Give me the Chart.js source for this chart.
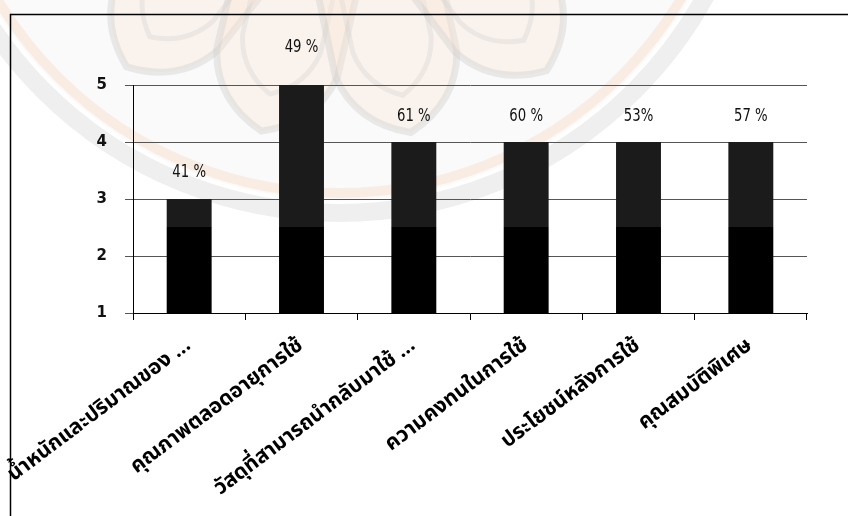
<!DOCTYPE html>
<html>
<head>
<meta charset="utf-8">
<script src="https://cdn.jsdelivr.net/npm/chart.js@4.4.1/dist/chart.umd.min.js"></script>
<style>
  html, body { margin: 0; background: #fff; }
  #wrap { width: 848px; height: 516px; position: relative; }
</style>
</head>
<body>
<div id="wrap"><canvas id="chart" width="848" height="516"></canvas></div>
<script>
// survey topics and mean scores
const categories = [
  'น้ำหนักและปริมาณของ ...',
  'คุณภาพตลอดอายุการใช้',
  'วัสดุที่สามารถนำกลับมาใช้ ...',
  'ความคงทนในการใช้',
  'ประโยชน์หลังการใช้',
  'คุณสมบัติพิเศษ'
];
const scores = [3, 5, 4, 4, 4, 4];
const percentLabels = ['41 %', '49 %', '61 %', '60 %', '53%', '57 %'];
const yTicks = [1, 2, 3, 4, 5];

// how far above each bar its percent label sits (px)
const labelLift = [26, 37, 25, 25, 25, 25];

// faint seal printed behind the chart
function drawSeal(ctx) {
  const cx = 339, cy = -205;
  ctx.save();
  ctx.fillStyle = 'rgba(225,225,225,0.18)';
  ctx.beginPath();
  ctx.arc(cx, cy, 405, 0, Math.PI * 2);
  ctx.fill();

  ctx.lineWidth = 18;
  ctx.strokeStyle = 'rgba(210,210,210,0.35)';
  ctx.beginPath();
  ctx.arc(cx, cy, 418, 0, Math.PI);
  ctx.stroke();
  ctx.lineWidth = 10;
  ctx.strokeStyle = 'rgba(250,215,185,0.35)';
  ctx.beginPath();
  ctx.arc(cx, cy, 398, 0, Math.PI);
  ctx.stroke();

  // petals, pointing away from the centre
  [-62, -38, -13, 12, 37, 62].forEach(deg => {
    const a = deg * Math.PI / 180;
    ctx.save();
    ctx.translate(cx, cy);
    ctx.rotate(-a);
    const tip = 345, base = 185, half = 62;
    ctx.beginPath();
    ctx.moveTo(-half, base);
    ctx.lineTo(-half, tip - 70);
    ctx.quadraticCurveTo(-half + 10, tip - 20, 0, tip);
    ctx.quadraticCurveTo(half - 10, tip - 20, half, tip - 70);
    ctx.lineTo(half, base);
    ctx.fillStyle = 'rgba(252,230,210,0.3)';
    ctx.fill();
    ctx.lineWidth = 7;
    ctx.strokeStyle = 'rgba(200,200,200,0.35)';
    ctx.stroke();
    ctx.beginPath();
    ctx.moveTo(-half + 22, base);
    ctx.lineTo(-half + 22, tip - 90);
    ctx.quadraticCurveTo(-half + 28, tip - 55, 0, tip - 38);
    ctx.quadraticCurveTo(half - 28, tip - 55, half - 22, tip - 90);
    ctx.lineTo(half - 22, base);
    ctx.lineWidth = 5;
    ctx.strokeStyle = 'rgba(205,205,205,0.3)';
    ctx.stroke();
    ctx.restore();
  });
  ctx.restore();
}

const frame = {
  id: 'frame',
  beforeDraw(chart) {
    const ctx = chart.ctx;
    drawSeal(ctx);
    // page border
    ctx.save();
    ctx.strokeStyle = '#000';
    ctx.lineWidth = 1.5;
    ctx.beginPath();
    ctx.moveTo(10.5, 516);
    ctx.lineTo(10.5, 14.5);
    ctx.lineTo(848, 14.5);
    ctx.stroke();
    ctx.restore();
  }
};

const percentText = {
  id: 'percentText',
  afterDatasetsDraw(chart) {
    const ctx = chart.ctx;
    const meta = chart.getDatasetMeta(0);
    ctx.save();
    ctx.fillStyle = '#111';
    ctx.font = '17px "DejaVu Sans", sans-serif';
    ctx.textAlign = 'center';
    ctx.textBaseline = 'middle';
    meta.data.forEach((bar, i) => {
      ctx.save();
      ctx.translate(bar.x, bar.y - labelLift[i]);
      ctx.scale(0.78, 1);
      ctx.fillText(percentLabels[i], 0, 0);
      ctx.restore();
    });
    ctx.restore();
  }
};

function barFill(context) {
  const chart = context.chart;
  const area = chart.chartArea;
  if (!area) return '#000';
  const split = chart.scales.y.getPixelForValue(2.5);
  const g = chart.ctx.createLinearGradient(0, area.top, 0, area.bottom);
  const t = (split - area.top) / (area.bottom - area.top);
  g.addColorStop(0, '#1b1b1b');
  g.addColorStop(t, '#1b1b1b');
  g.addColorStop(t, '#000');
  g.addColorStop(1, '#000');
  return g;
}

new Chart(document.getElementById('chart'), {
  type: 'bar',
  data: {
    labels: categories,
    datasets: [{
      data: scores,
      backgroundColor: barFill,
      borderWidth: 0,
      categoryPercentage: 1,
      barPercentage: 0.4
    }]
  },
  options: {
    responsive: false,
    animation: false,
    layout: { padding: { left: 0, top: 85, right: 41, bottom: 0 } },
    plugins: { legend: { display: false }, tooltip: { enabled: false } },
    scales: {
      y: {
        min: 1,
        max: 5,
        afterBuildTicks(scale) { scale.ticks = yTicks.map(v => ({ value: v })); },
        afterFit(scale) { scale.width = 133; },
        border: { color: '#000', width: 1 },
        grid: { color: '#555', lineWidth: 1, tickLength: 8, tickColor: '#555' },
        ticks: {
          color: '#111',
          padding: 18,
          font: { family: '"DejaVu Sans", Verdana, sans-serif', size: 15, weight: 'bold' }
        }
      },
      x: {
        afterFit(scale) {
          scale.height = 203;
          scale.paddingLeft = 0;
          scale.paddingRight = 0;
        },
        border: { color: '#000', width: 1 },
        grid: { drawOnChartArea: false, drawTicks: true, tickLength: 7, tickColor: '#000', offset: true },
        ticks: {
          color: '#000',
          autoSkip: false,
          minRotation: 37,
          maxRotation: 37,
          padding: 14,
          font: { family: 'Tahoma, "Noto Sans Thai", "DejaVu Sans", sans-serif', size: 21, weight: 'bold' }
        }
      }
    }
  },
  plugins: [frame, percentText]
});
</script>
</body>
</html>
